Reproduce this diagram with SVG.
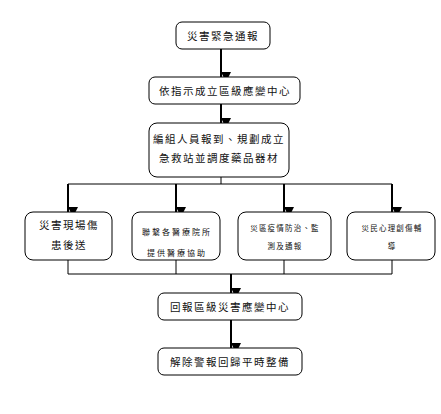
<svg xmlns="http://www.w3.org/2000/svg" width="441" height="414" viewBox="0 0 441 414">
<style>
.box{fill:#fff;stroke:#000;stroke-width:1}
.t{font-family:"Noto Sans CJK TC","Noto Sans CJK SC",sans-serif;font-size:10.5px;letter-spacing:1.5px;fill:#111;text-anchor:middle}
.s{font-size:8px;letter-spacing:2px}
.xs{font-size:7.5px;letter-spacing:1.2px}
.thin{stroke:#000;stroke-width:1;fill:none}
.arr{stroke:#000;stroke-width:2;fill:none;marker-end:url(#ah)}
</style>
<defs>
<marker id="ah" markerUnits="userSpaceOnUse" markerWidth="10" markerHeight="10" viewBox="0 0 10 10" refX="5" refY="10" orient="auto-start-reverse">
<path d="M0,0 L10,0 L5,10 Z" fill="#000" transform="rotate(-90 5 5)"/>
</marker>
</defs>
<rect width="441" height="414" fill="#fff"/>
<g id="connectors">
<line class="arr" x1="221" y1="49" x2="221" y2="77"/>
<line class="arr" x1="221" y1="104" x2="221" y2="123"/>
<polyline class="thin" points="221,177 221,184"/>
<line class="thin" x1="68" y1="184" x2="392" y2="184"/>
<line class="arr" x1="68" y1="184" x2="68" y2="212"/>
<line class="arr" x1="176" y1="184" x2="176" y2="212"/>
<line class="arr" x1="284" y1="184" x2="284" y2="212"/>
<line class="arr" x1="392" y1="184" x2="392" y2="212"/>
<line class="thin" x1="68" y1="260" x2="68" y2="274"/>
<line class="thin" x1="176" y1="260" x2="176" y2="274"/>
<line class="thin" x1="284" y1="260" x2="284" y2="274"/>
<line class="thin" x1="392" y1="260" x2="392" y2="274"/>
<line class="thin" x1="68" y1="274" x2="392" y2="274"/>
<line class="arr" x1="231" y1="274" x2="231" y2="293"/>
<line class="arr" x1="231" y1="320" x2="231" y2="348"/>
</g>
<g id="n1"><rect class="box" x="176" y="22" width="94" height="27" rx="6"/><text class="t" x="223" y="39.5">災害緊急通報</text></g>
<g id="n2"><rect class="box" x="149" y="77" width="151" height="27" rx="6"/><text class="t" x="225" y="94.5">依指示成立區級應變中心</text></g>
<g id="n3"><rect class="box" x="149" y="123" width="140" height="54" rx="8"/><text class="t" x="219" y="143">編組人員報到、規劃成立</text><text class="t" x="219" y="162">急救站並調度藥品器材</text></g>
<g id="n4"><rect class="box" x="25" y="212" width="87" height="48" rx="8"/><text class="t" x="69" y="229">災害現場傷</text><text class="t" x="69" y="249">患後送</text></g>
<g id="n5"><rect class="box" x="132" y="212" width="88" height="48" rx="8"/><text class="t s" x="177" y="235">聯繫各醫療院所</text><text class="t s" x="177" y="256">提供醫療協助</text></g>
<g id="n6"><rect class="box" x="238" y="212" width="93" height="48" rx="8"/><text class="t xs" x="285" y="231">災區疫情防治、監</text><text class="t xs" x="285" y="249">測及通報</text></g>
<g id="n7"><rect class="box" x="347" y="212" width="88" height="48" rx="8"/><text class="t xs" x="392" y="231">災民心理創傷輔</text><text class="t xs" x="392" y="249">導</text></g>
<g id="n8"><rect class="box" x="158" y="293" width="144" height="27" rx="6"/><text class="t" x="230" y="310.5">回報區級災害應變中心</text></g>
<g id="n9"><rect class="box" x="158" y="348" width="144" height="27" rx="6"/><text class="t" x="230" y="365.5">解除警報回歸平時整備</text></g>
</svg>
